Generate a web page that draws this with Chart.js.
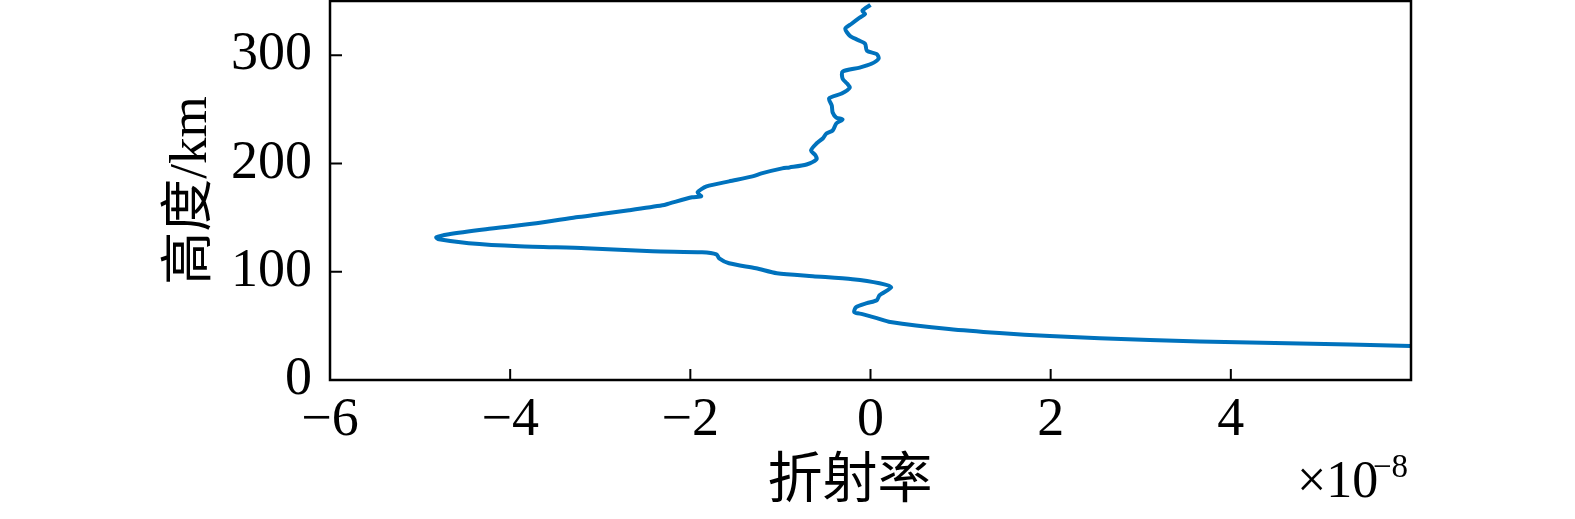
<!DOCTYPE html>
<html>
<head>
<meta charset="utf-8">
<script src="https://cdn.jsdelivr.net/npm/chart.js@4/dist/chart.umd.min.js"></script>
<style>
  html, body { margin: 0; padding: 0; background: #fff; }
  #wrap { width: 1575px; height: 519px; }
</style>
</head>
<body>
<div id="wrap"><canvas id="profile"></canvas></div>
<script>
// refractivity in units of 1e-8, read top (high altitude) to bottom
const refractivity = [
  0.00, -0.09, -0.06, -0.12, -0.21, -0.28, -0.23, -0.14, -0.06, -0.04,
  0.07, 0.09, 0.01, -0.12, -0.31, -0.31, -0.26, -0.23, -0.32, -0.46,
  -0.43, -0.42, -0.38, -0.31, -0.38, -0.42, -0.49, -0.53, -0.60, -0.66,
  -0.61, -0.60, -0.71, -0.90, -0.98, -1.21, -1.31, -1.57, -1.82, -1.92,
  -1.88, -1.98, -2.23, -2.31, -2.68, -3.01, -3.27, -3.71, -4.27, -4.68,
  -4.82, -4.79, -4.46, -3.90, -3.16, -2.42, -1.87, -1.71, -1.68, -1.57,
  -1.27, -1.04, -0.64, -0.20, 0.10, 0.23, 0.10, 0.07, -0.04, -0.16,
  -0.18, -0.09, 0.07, 0.22, 0.87, 1.43, 1.99, 3.10, 4.21, 5.32, 6.00
];
const altitudeKm = [
  346.5, 341, 338, 334.6, 329, 324.4, 318, 314, 310.6, 304,
  301, 296.8, 292, 288.5, 284.8, 278.3, 273.7, 270, 264.5, 260,
  253.5, 247, 242.4, 240.6, 236.9, 230.4, 227.6, 223, 218.4, 212,
  207.4, 203.7, 199, 196.3, 195.4, 190.8, 188, 183.4, 178.8, 173.3,
  169.6, 168.7, 163.1, 161.3, 156.7, 153, 150.2, 144.7, 139.2, 134.6,
  131.8, 129.9, 126.3, 123.5, 121.7, 118.9, 118, 116.1, 112.4, 107.8,
  103.2, 98.6, 95.9, 93.1, 89.4, 85.7, 78.3, 73.7, 71, 67.3,
  62.7, 60.8, 57.1, 53.5, 47, 43.3, 40.6, 36.9, 34.6, 32.7, 31.3
];
const xTicks = [-6, -4, -2, 0, 2, 4, 6];
const yTicks = [0, 100, 200, 300];

const serif = "'Liberation Serif', 'Noto Sans CJK SC', serif";

// MATLAB-style box, inward tick marks, x title and the x10^-8 exponent note
const axesBox = {
  id: "axesBox",
  afterDraw(chart) {
    const { ctx, chartArea: a, scales: { x, y } } = chart;
    ctx.save();
    ctx.strokeStyle = "#000";
    ctx.lineWidth = 2.5;
    ctx.strokeRect(a.left, a.top, a.right - a.left, a.bottom - a.top);
    ctx.lineWidth = 2;
    ctx.beginPath();
    xTicks.forEach(v => {
      const px = x.getPixelForValue(v);
      ctx.moveTo(px, a.bottom);
      ctx.lineTo(px, a.bottom - 11);
    });
    yTicks.forEach(v => {
      const py = y.getPixelForValue(v);
      ctx.moveTo(a.left, py);
      ctx.lineTo(a.left + 12, py);
    });
    ctx.stroke();

    ctx.fillStyle = "#000";
    ctx.textBaseline = "middle";
    ctx.textAlign = "center";
    ctx.font = "55px " + serif;
    ctx.fillText("折射率", 850, 483);

    ctx.textBaseline = "alphabetic";
    ctx.textAlign = "left";
    ctx.font = "52px " + serif;
    ctx.fillText("\u00d710", 1297, 497);
    ctx.font = "33px " + serif;
    ctx.fillText("\u22128", 1373, 477);
    ctx.restore();
  }
};

new Chart(document.getElementById("profile"), {
  type: "scatter",
  data: {
    datasets: [{
      data: refractivity.map((v, i) => ({ x: v, y: altitudeKm[i] })),
      showLine: true,
      borderColor: "#0072BD",
      borderWidth: 4,
      pointRadius: 0,
      tension: 0.25,
      fill: false
    }]
  },
  options: {
    responsive: true,
    maintainAspectRatio: false,
    animation: false,
    layout: { padding: { left: 150, right: 164, top: 1, bottom: 0 } },
    plugins: { legend: { display: false }, tooltip: { enabled: false } },
    scales: {
      x: {
        type: "linear",
        min: -6,
        max: 6,
        afterBuildTicks: s => { s.ticks = xTicks.map(v => ({ value: v })); },
        afterFit: s => { s.height = 139; s.paddingLeft = 0; s.paddingRight = 0; },
        grid: { display: false, drawTicks: false },
        border: { display: false },
        ticks: {
          color: "#000",
          padding: 8,
          font: { family: serif, size: 54 },
          callback: v => (v === 6 ? "" : String(v).replace("-", "\u2212"))
        }
      },
      y: {
        type: "linear",
        min: 0,
        max: 350,
        afterBuildTicks: s => { s.ticks = yTicks.map(v => ({ value: v })); },
        afterFit: s => { s.width = 180; s.paddingTop = 0; s.paddingBottom = 0; },
        grid: { display: false, drawTicks: false },
        border: { display: false },
        ticks: {
          color: "#000",
          padding: 18,
          font: { family: serif, size: 54 }
        },
        title: {
          display: true,
          text: "高度/km",
          color: "#000",
          font: { family: serif, size: 53 },
          padding: { top: 10, bottom: 0 }
        }
      }
    }
  },
  plugins: [axesBox]
});
</script>
</body>
</html>
